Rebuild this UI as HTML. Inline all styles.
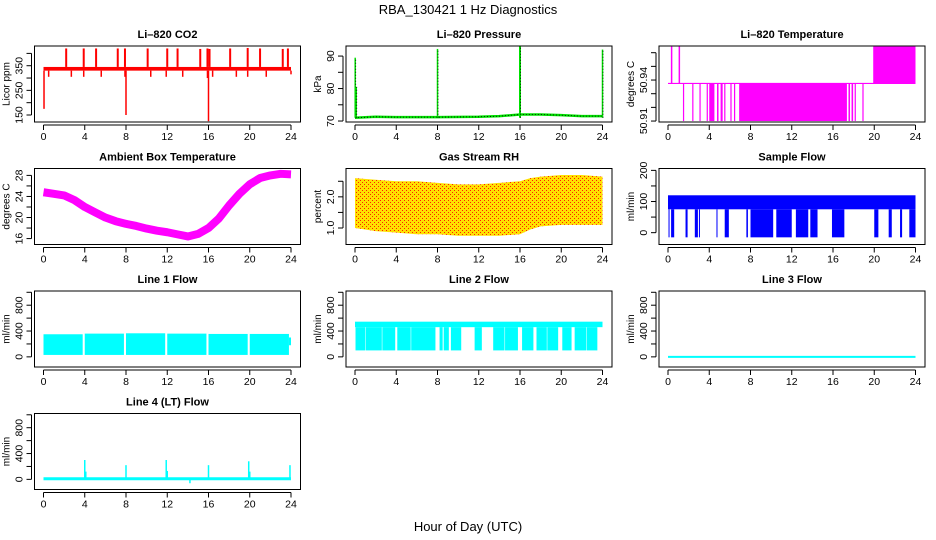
<!DOCTYPE html>
<html><head><meta charset="utf-8"><title>RBA_130421 1 Hz Diagnostics</title>
<style>
html,body{margin:0;padding:0;background:#fff;}
svg{display:block;font-family:"Liberation Sans",Arial,sans-serif;}
.tl{font-size:10.5px;fill:#000;}
.pt{font-size:11px;font-weight:bold;fill:#000;}
.yl{font-size:10px;fill:#000;}
</style></head>
<body>
<svg id="fig" width="936" height="540" viewBox="0 0 936 540" xmlns="http://www.w3.org/2000/svg">
<defs>
<pattern id="rhpat" width="4" height="4" patternUnits="userSpaceOnUse">
<rect width="4" height="4" fill="#ffe000"/>
<rect x="0" y="0" width="1" height="1" fill="#ff2000"/>
<rect x="2" y="2" width="1" height="1" fill="#ff2000"/>
</pattern>
</defs>
<text x="468" y="14" text-anchor="middle" font-size="13">RBA_130421  1 Hz Diagnostics</text>
<text x="468" y="531" text-anchor="middle" font-size="13">Hour of Day (UTC)</text>
</svg>
<script>
// ---- data ----
const hourTicks = [0,4,8,12,16,20,24];
// CO2
const co2Base = [330, 345];
const co2UpSpikeHours = [2.2,3.9,5.1,7.2,7.9,10.1,12.0,13.0,15.2,15.9,16.1,18.1,19.8,21.0,23.2,23.7];
const co2UpSpikeVals = [420,420,420,420,420,420,420,420,418,420,418,420,422,420,418,420];
const co2DownSpikeHours = [0.05,0.5,2.7,3.9,5.6,7.9,8.0,10.4,11.9,13.5,15.9,16.0,16.4,18.7,19.8,21.6,24.0];
const co2DownSpikeVals = [175,305,305,305,305,305,150,305,305,305,300,125,305,305,305,305,315];
// Pressure
const presHours = [0,2,4,8,12,14,16,18,20,22,24];
const presBase = [71.0,71.3,71.2,71.2,71.3,71.5,72.0,72.0,71.8,71.5,71.5];
const presSpikeHours = [0.02,0.12,8.0,16.0,24.0];
const presSpikeVals = [89.5,80.5,92.2,93.2,92.0];
// Li-820 temperature
const tempLow = 50.9375, tempHigh = 50.9645, tempFloor = 50.91;
const tempUpSpikes = [0.35,1.1];
const tempDownIntervals = [[1.45,1.55],[2.35,2.45],[3.05,3.15],[3.75,3.85],[4.0,4.5],[4.75,4.9],[5.1,5.3],[5.45,5.55],[6.05,6.15],[6.4,6.5],[6.9,17.35],[17.5,17.65],[17.8,17.95],[18.1,18.2],[18.85,18.95]];
const tempHighBlock = [19.9, 24.0];
// Ambient box temperature
const ambHours = [0,1,2,3,4,5,6,7,8,9,10,11,12,13,14,15,16,17,18,19,20,21,22,23,24];
const ambVals = [24.8,24.5,24.2,23.3,22.0,21.0,20.0,19.3,18.8,18.4,17.9,17.5,17.2,16.8,16.4,16.9,18.0,19.8,22.3,24.5,26.3,27.5,28.0,28.3,28.2];
// Gas stream RH
const rhHours = [0,2,4,6,8,10,12,14,16,17,18,20,22,24];
const rhUpper = [2.6,2.55,2.5,2.5,2.45,2.4,2.4,2.45,2.5,2.6,2.65,2.7,2.7,2.65];
const rhLower = [1.0,0.9,0.85,0.8,0.8,0.75,0.75,0.75,0.8,0.95,1.05,1.1,1.1,1.1];
// Sample flow
const sfBand = [75, 120];
const sfDropMin = -15;
const sfDrops = [[0.05,0.15],[0.3,0.6],[1.7,1.9],[2.6,2.9],[3.0,3.1],[4.7,4.8],[5.5,5.9],[7.6,7.75],[8.0,10.2],[10.5,12.0],[12.4,13.6],[13.8,14.5],[15.9,17.1],[20.0,20.4],[21.4,21.7],[22.5,22.7],[23.4,24.0]];
// Line 1 flow
const l1Segments = [[0.0,3.8],[4.0,7.8],[8.0,11.8],[12.0,15.8],[16.0,19.8],[20.0,23.8]];
const l1Upper = [350,360,365,360,355,355];
const l1Lower = [30,30,30,30,30,30];
// Line 2 flow
const l2Top = [460, 545];
const l2Lower = 100;
const l2Gaps = [[1.0,1.05],[2.6,2.65],[3.9,4.1],[5.4,5.45],[7.8,8.2],[8.5,8.6],[9.1,9.3],[10.3,11.6],[12.3,13.4],[14.5,14.55],[15.8,16.2],[17.3,17.6],[18.6,18.65],[19.7,20.1],[21.0,21.3],[22.4,22.45],[23.5,24.0]];
// Line 3 flow
const l3Value = 0;
// Line 4 flow
const l4Base = 10;
const l4SpikeHours = [4.0,4.1,8.0,11.9,12.0,14.2,16.0,19.9,20.0,23.9];
const l4SpikeVals = [300,120,220,300,130,-60,220,280,120,220];

// ---- layout ----
const NS = "http://www.w3.org/2000/svg";
const svg = document.getElementById('fig');
const colX0 = [43.5, 355, 668];
const hourPx = 247.5/24;
const rowTop = [46, 168.5, 291, 413.5];
const boxH = 76;
function mk(tag, attrs, parent){
  const e = document.createElementNS(NS, tag);
  for (const k in attrs) e.setAttribute(k, attrs[k]);
  (parent||svg).appendChild(e);
  return e;
}
function panel(col,row,title,ylab,ymin,ymax,ticks,labels,name){
  const g = mk('g',{});
  
  
  const x0 = colX0[col], top = rowTop[row], bot = top+boxH;
  const left = x0-9, right = x0+257;
  const xs = h => x0 + h*hourPx;
  const ys = v => bot - (v-ymin)/(ymax-ymin)*boxH;
  const plot = mk('g',{},g);
  
  
  const t = mk('text',{x:(left+right)/2,y:top-8,'text-anchor':'middle',class:'pt'},g);
  t.textContent = title;
  
  
  const b = mk('rect',{x:left,y:top,width:right-left,height:boxH,fill:'none',stroke:'#000','stroke-width':1},g);
  
  
  const xa = mk('g',{},g);
  
  
  const ay = bot+3;
  mk('line',{x1:xs(hourTicks[0]),x2:xs(hourTicks[hourTicks.length-1]),y1:ay,y2:ay,stroke:'#000'},xa);
  hourTicks.forEach(h=>{
    mk('line',{x1:xs(h),x2:xs(h),y1:ay,y2:ay+5,stroke:'#000'},xa);
    const tx = mk('text',{x:xs(h),y:ay+15,'text-anchor':'middle',class:'tl'},xa);
    tx.textContent = h;
    
    
  });
  const ya = mk('g',{},g);
  
  
  const ax = left-3;
  mk('line',{x1:ax,x2:ax,y1:ys(ticks[0]),y2:ys(ticks[ticks.length-1]),stroke:'#000'},ya);
  ticks.forEach(v=>{
    mk('line',{x1:ax-5,x2:ax,y1:ys(v),y2:ys(v),stroke:'#000'},ya);
  });
  labels.forEach(l=>{
    const tx = mk('text',{x:0,y:0,'text-anchor':'middle',class:'tl',transform:`translate(${ax-9},${ys(l.v)}) rotate(-90)`},ya);
    tx.textContent = l.t;
    
    
  });
  const yt = mk('text',{x:0,y:0,'text-anchor':'middle',class:'yl',transform:`translate(${ax-22},${top+boxH/2}) rotate(-90)`},ya);
  yt.textContent = ylab;
  
  
  return {plot,xs,ys};
}
function seg(p,x1,y1,x2,y2,c,w,extra){
  return mk('line',Object.assign({x1,y1,x2,y2,stroke:c,'stroke-width':w},extra||{}),p);
}
function rect(p,x1,y1,x2,y2,c){
  return mk('rect',{x:Math.min(x1,x2),y:Math.min(y1,y2),width:Math.abs(x2-x1),height:Math.abs(y2-y1),fill:c},p);
}

// CO2
(function(){
  const P = panel(0,0,'Li\u2013820 CO2','Licor ppm',121.6,430,[150,200,250,300,350,400],[{v:150,t:'150'},{v:250,t:'250'},{v:350,t:'350'}],'co2');
  const r = rect(P.plot,P.xs(0),P.ys(co2Base[1]),P.xs(24),P.ys(co2Base[0]),'#ff0000');
  
  
  co2UpSpikeHours.forEach((h,i)=>{
    const l = seg(P.plot,P.xs(h),P.ys(co2Base[1]),P.xs(h),P.ys(co2UpSpikeVals[i]),'#ff0000',2);
    
    
  });
  co2DownSpikeHours.forEach((h,i)=>{
    const l = seg(P.plot,P.xs(h),P.ys(co2Base[0]),P.xs(h),P.ys(co2DownSpikeVals[i]),'#ff0000',1.5);
    
    
  });
})();
// Pressure
(function(){
  const P = panel(1,0,'Li\u2013820 Pressure','kPa',69.7,93.1,[70,75,80,85,90],[{v:70,t:'70'},{v:80,t:'80'},{v:90,t:'90'}],'pressure');
  const pts = presHours.map((h,i)=>P.xs(h)+','+P.ys(presBase[i])).join(' ');
  const pl = mk('polyline',{points:pts,fill:'none',stroke:'#00e000','stroke-width':2.5},P.plot);
  
  
  const pl2 = mk('polyline',{points:pts,fill:'none',stroke:'#000','stroke-width':0.8,'stroke-dasharray':'1,2'},P.plot);
  
  
  presSpikeHours.forEach((h,i)=>{
    const l = seg(P.plot,P.xs(h),P.ys(71),P.xs(h),P.ys(presSpikeVals[i]),'#00e000',h===16?2:1.5);
    
    
    const d = seg(P.plot,P.xs(h)+0.5,P.ys(71),P.xs(h)+0.5,P.ys(presSpikeVals[i]),'#000',0.8,{'stroke-dasharray':'1,2'});
    
    
  });
})();
// Li-820 Temperature
(function(){
  const P = panel(2,0,'Li\u2013820 Temperature','degrees C',50.9093,50.9649,[50.91,50.92,50.93,50.94,50.95,50.96],[{v:50.91,t:'50.91'},{v:50.94,t:'50.94'}],'li820-temp');
  const l = seg(P.plot,P.xs(0),P.ys(tempLow),P.xs(24),P.ys(tempLow),'#ff00ff',1.2);
  
  
  tempUpSpikes.forEach(h=>{
    const s = seg(P.plot,P.xs(h),P.ys(tempLow),P.xs(h),P.ys(tempHigh),'#ff00ff',1.5);
    
    
  });
  tempDownIntervals.forEach(iv=>{
    const r = rect(P.plot,P.xs(iv[0]),P.ys(tempLow),Math.max(P.xs(iv[1]),P.xs(iv[0])+1.2),P.ys(tempFloor),'#ff00ff');
    
    
  });
  const hb = rect(P.plot,P.xs(tempHighBlock[0]),P.ys(tempHigh),P.xs(tempHighBlock[1]),P.ys(tempLow),'#ff00ff');
  
  
})();
// Ambient
(function(){
  const P = panel(0,1,'Ambient Box Temperature','degrees C',14.875,29.31,[16,18,20,22,24,26,28],[{v:16,t:'16'},{v:20,t:'20'},{v:24,t:'24'},{v:28,t:'28'}],'ambient-temp');
  const pts = ambHours.map((h,i)=>P.xs(h)+','+P.ys(ambVals[i])).join(' ');
  const pl = mk('polyline',{points:pts,fill:'none',stroke:'#ff00ff','stroke-width':8,'stroke-linejoin':'round'},P.plot);
  
  
})();
// RH
(function(){
  const P = panel(1,1,'Gas Stream RH','percent',0.47,2.91,[1.0,1.5,2.0,2.5],[{v:1.0,t:'1.0'},{v:2.0,t:'2.0'}],'gas-rh');
  const up = rhHours.map((h,i)=>P.xs(h)+','+P.ys(rhUpper[i]));
  const lo = rhHours.map((h,i)=>P.xs(h)+','+P.ys(rhLower[i])).reverse();
  const pg = mk('polygon',{points:up.concat(lo).join(' '),fill:'url(#rhpat)'},P.plot);
  
  
})();
// Sample flow
(function(){
  const P = panel(2,1,'Sample Flow','ml/min',-38,206,[0,50,100,150,200],[{v:0,t:'0'},{v:100,t:'100'},{v:200,t:'200'}],'sample-flow');
  const r = rect(P.plot,P.xs(0),P.ys(sfBand[1]),P.xs(24),P.ys(sfBand[0]),'#0000ff');
  
  
  sfDrops.forEach(iv=>{
    const d = rect(P.plot,P.xs(iv[0]),P.ys(sfBand[0]),P.xs(iv[1]),P.ys(sfDropMin),'#0000ff');
    
    
  });
})();
const flowTicks = [0,200,400,600,800,1000];
const flowLabels = [{v:0,t:'0'},{v:400,t:'400'},{v:800,t:'800'}];
// Line 1
(function(){
  const P = panel(0,2,'Line 1 Flow','ml/min',-157,1020,flowTicks,flowLabels,'line1-flow');
  l1Segments.forEach((s,i)=>{
    const r = rect(P.plot,P.xs(s[0]),P.ys(l1Upper[i]),P.xs(s[1]),P.ys(l1Lower[i]),'#00ffff');
    
    
  });
  const t = rect(P.plot,P.xs(23.8),P.ys(300),P.xs(24),P.ys(180),'#00ffff');
  
  
})();
// Line 2
(function(){
  const P = panel(1,2,'Line 2 Flow','ml/min',-157,1020,flowTicks,flowLabels,'line2-flow');
  const top = rect(P.plot,P.xs(0),P.ys(l2Top[1]),P.xs(24),P.ys(l2Top[0]),'#00ffff');
  
  
  let start = 0.05;
  l2Gaps.forEach(g=>{
    const r = rect(P.plot,P.xs(start),P.ys(l2Top[0]),P.xs(g[0]),P.ys(l2Lower),'#00ffff');
    
    
    start = g[1];
  });
})();
// Line 3
(function(){
  const P = panel(2,2,'Line 3 Flow','ml/min',-157,1020,flowTicks,flowLabels,'line3-flow');
  const l = seg(P.plot,P.xs(0),P.ys(l3Value),P.xs(24),P.ys(l3Value),'#00ffff',2);
  
  
})();
// Line 4
(function(){
  const P = panel(0,3,'Line 4 (LT) Flow','ml/min',-157,1020,flowTicks,flowLabels,'line4-flow');
  const l = seg(P.plot,P.xs(0),P.ys(l4Base),P.xs(24),P.ys(l4Base),'#00ffff',3);
  
  
  l4SpikeHours.forEach((h,i)=>{
    const s = seg(P.plot,P.xs(h),P.ys(l4Base),P.xs(h),P.ys(l4SpikeVals[i]),'#00ffff',1.5);
    
    
  });
})();
</script>
</body></html>
